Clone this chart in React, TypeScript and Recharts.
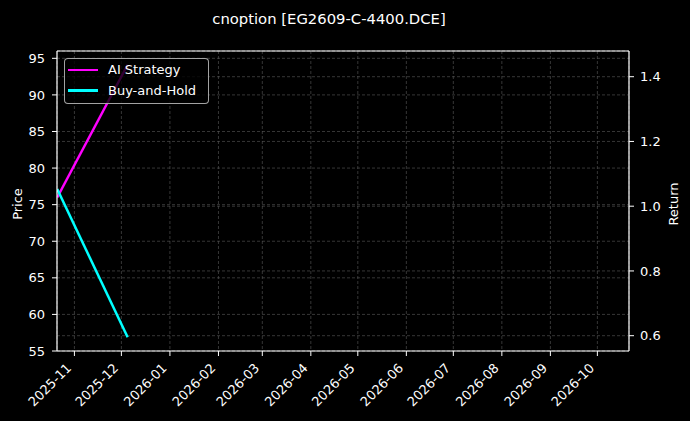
import React from 'react';
import { LineChart, Line, XAxis, YAxis, CartesianGrid, ReferenceLine } from 'recharts';

// ---- data ----
const dates = ['2025-10-21', '2025-12-05'];
const aiStrategy = [1.027, 1.437];
const buyAndHold = [1.053, 0.595];
const monthTicks = [
  '2025-11', '2025-12', '2026-01', '2026-02', '2026-03', '2026-04',
  '2026-05', '2026-06', '2026-07', '2026-08', '2026-09', '2026-10',
];
const priceTicks = [55, 60, 65, 70, 75, 80, 85, 90, 95];
const returnTicks = [0.6, 0.8, 1.0, 1.2, 1.4];
const seriesNames = ['AI Strategy', 'Buy-and-Hold'];
const seriesColors = ['#ff00ff', '#00ffff'];
const title = 'cnoption [EG2609-C-4400.DCE]';

const toTs = (s: string) => Date.parse((s.length === 7 ? s + '-01' : s) + 'T00:00:00Z');

const data = dates.map((d, i) => ({ t: toTs(d), ai: aiStrategy[i], bh: buyAndHold[i] }));
const tickValues = monthTicks.map(toTs);
const xDomain = [Date.UTC(2025, 9, 20, 21), Date.UTC(2026, 9, 21, 5)];
const priceDomain = [55, 96.0];
const returnDomain = [0.5527, 1.4794];

const FONT = '"DejaVu Sans", sans-serif';
const FS = 13;

const MonthTick = (props: any) => {
  const { x, y, payload } = props;
  const idx = tickValues.indexOf(payload.value);
  const label = idx >= 0 ? monthTicks[idx] : '';
  const ax = x - 2.2;
  const ay = y + 12.8;
  return (
    <text
      x={ax}
      y={ay}
      transform={`rotate(-45, ${ax}, ${ay})`}
      textAnchor="end"
      fill="#ffffff"
      fontSize={FS}
      fontFamily={FONT}
    >
      {label}
    </text>
  );
};

const PriceLabel = () => (
  <text x={21.7} y={204} transform="rotate(-90, 21.7, 204)" textAnchor="middle" fill="#fff" fontSize={FS} fontFamily={FONT}>
    Price
  </text>
);
const ReturnLabel = () => (
  <text x={678.3} y={204} transform="rotate(-90, 678.3, 204)" textAnchor="middle" fill="#fff" fontSize={FS} fontFamily={FONT}>
    Return
  </text>
);

export default function App() {
  return (
    <div
      style={{
        position: 'absolute',
        left: 0,
        top: 0,
        width: 690,
        height: 421,
        background: '#000',
        fontFamily: FONT,
        overflow: 'hidden',
      }}
    >
      <svg width={690} height={40} style={{ position: 'absolute', left: 0, top: 0 }}>
        <text x={329} y={24} textAnchor="middle" fill="#fff" fontSize={14.8} fontFamily={FONT}>
          {title}
        </text>
      </svg>
      <LineChart width={690} height={421} data={data} margin={{ top: 51, right: 0, bottom: 0, left: 0 }}>
        <CartesianGrid yAxisId="left" stroke="#5a5a5a" strokeWidth={0.6} strokeDasharray="3 2" />
        <CartesianGrid yAxisId="right" vertical={false} stroke="#5a5a5a" strokeWidth={0.6} strokeDasharray="3 2" />
        <XAxis
          dataKey="t"
          type="number"
          domain={xDomain}
          allowDataOverflow
          ticks={tickValues}
          interval={0}
          height={70}
          tickSize={5}
          tickMargin={0}
          stroke="#fff"
          axisLine={{ stroke: '#fff', strokeWidth: 1.2 }}
          tickLine={{ stroke: '#fff' }}
          tick={<MonthTick />}
        />
        <YAxis
          yAxisId="left"
          type="number"
          domain={priceDomain}
          allowDataOverflow
          ticks={priceTicks}
          interval={0}
          width={57}
          tickSize={5}
          tickMargin={7}
          axisLine={{ stroke: '#fff', strokeWidth: 1.2 }}
          tickLine={{ stroke: '#fff' }}
          tick={{ fill: '#fff', fontSize: FS, fontFamily: FONT }}
          label={{ content: PriceLabel }}
        />
        <YAxis
          yAxisId="right"
          orientation="right"
          type="number"
          domain={returnDomain}
          allowDataOverflow
          ticks={returnTicks}
          interval={0}
          width={61}
          tickSize={5}
          tickMargin={6}
          tickFormatter={(v: number) => v.toFixed(1)}
          axisLine={{ stroke: '#fff', strokeWidth: 1.2 }}
          tickLine={{ stroke: '#fff' }}
          tick={{ fill: '#fff', fontSize: FS, fontFamily: FONT }}
          label={{ content: ReturnLabel }}
        />
        <ReferenceLine yAxisId="left" y={priceDomain[1]} stroke="#fff" strokeWidth={1.2} />
        <Line
          yAxisId="right"
          dataKey="ai"
          name={seriesNames[0]}
          stroke={seriesColors[0]}
          strokeWidth={2.5}
          dot={false}
          isAnimationActive={false}
        />
        <Line
          yAxisId="right"
          dataKey="bh"
          name={seriesNames[1]}
          stroke={seriesColors[1]}
          strokeWidth={2.5}
          dot={false}
          isAnimationActive={false}
        />
      </LineChart>
      <div
        style={{
          position: 'absolute',
          left: 64,
          top: 58,
          width: 145,
          height: 46,
          boxSizing: 'border-box',
          background: 'rgba(0,0,0,0.8)',
          border: '1px solid rgba(204,204,204,0.8)',
          borderRadius: 4,
        }}
      >
        {seriesNames.map((n, i) => (
          <div
            key={n}
            style={{
              position: 'absolute',
              left: 3,
              top: 3 + i * 20.7,
              height: 16,
              display: 'flex',
              alignItems: 'center',
              whiteSpace: 'nowrap',
            }}
          >
            <div style={{ width: 30, height: 2.5, background: seriesColors[i] }} />
            <span style={{ marginLeft: 10, color: '#fff', fontSize: FS, lineHeight: '16px' }}>{n}</span>
          </div>
        ))}
      </div>
    </div>
  );
}
